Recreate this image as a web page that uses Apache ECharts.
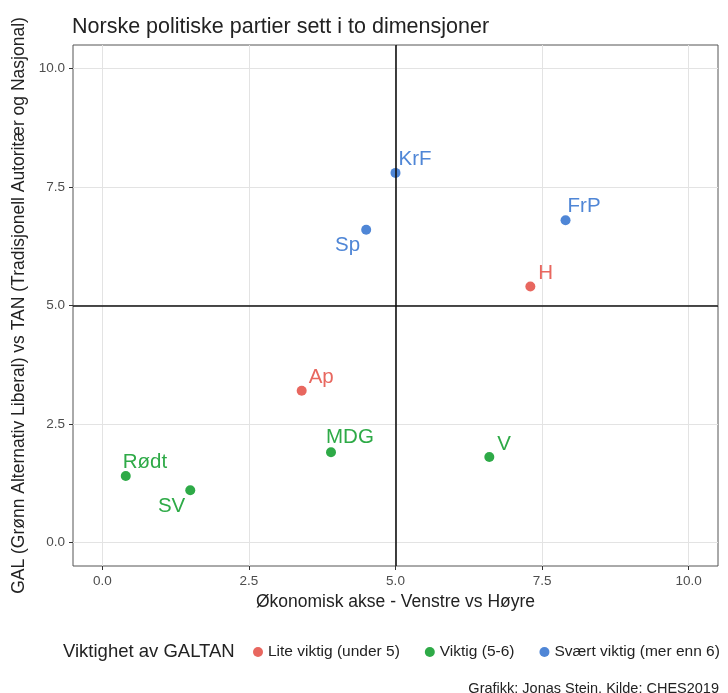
<!DOCTYPE html>
<html>
<head>
<meta charset="utf-8">
<script src="https://cdn.jsdelivr.net/npm/echarts@6/dist/echarts.min.js"></script>
<style>
  html, body { margin: 0; padding: 0; background: #fff; }
  #chart { width: 728px; height: 693px; }
</style>
</head>
<body>
<div id="chart"></div>
<script>
// Partier og posisjoner (økonomisk akse, GAL-TAN)
const parties = ["KrF", "Sp", "FrP", "H", "Ap", "MDG", "V", "Rødt", "SV"];
const econ = [5.0, 4.5, 7.9, 7.3, 3.4, 3.9, 6.6, 0.4, 1.5];
const galtan = [7.8, 6.6, 6.8, 5.4, 3.2, 1.9, 1.8, 1.4, 1.1];
const importance = [2, 2, 2, 0, 0, 1, 1, 1, 1];
const groups = ["Lite viktig (under 5)", "Viktig (5-6)", "Svært viktig (mer enn 6)"];
const tickValues = [0, 2.5, 5, 7.5, 10];

const colors = ["#E8675F", "#2EAA47", "#4F86D6"];

// Plassering av etikettene (som ggrepel)
const labelPos = {
    "KrF": ["right", [-2, -14]],
    "Sp": ["left", [-1, 16]],
    "FrP": ["right", [-3, -14]],
    "H": ["right", [3, -13]],
    "Ap": ["right", [2, -13]],
    "MDG": ["right", [-10, -15]],
    "V": ["right", [3, -13]],
    "Rødt": ["right", [-8, -14]],
    "SV": ["left", [0, 16]]
};

const series = groups.map((g, gi) => {
    const data = [];
    parties.forEach((p, i) => {
        if (importance[i] !== gi) return;
        data.push({
            value: [econ[i], galtan[i], p],
            label: { position: labelPos[p][0], offset: labelPos[p][1] }
        });
    });
    return {
        name: g,
        type: 'scatter',
        symbolSize: 10,
        itemStyle: { color: colors[gi], opacity: 1 },
        label: {
            show: true,
            formatter: (d) => d.value[2],
            color: colors[gi],
            fontSize: 20.5,
            fontFamily: 'Liberation Sans',
            distance: 0
        },
        data: data,
        z: 3
    };
});

// svarte hjelpelinjer ved 5
series.push({
    type: 'scatter',
    data: [],
    silent: true,
    markLine: {
        symbol: 'none',
        silent: true,
        label: { show: false },
        lineStyle: { color: '#111', width: 1.6, type: 'solid' },
        data: [{ xAxis: 5 }, { yAxis: 5 }]
    },
    z: 1
});

const axisCommon = {
    type: 'value',
    min: -0.5,
    max: 10.5,
    axisLine: { show: false, onZero: false },
    axisTick: { show: true, length: 4, customValues: tickValues, lineStyle: { color: '#333' } },
    axisLabel: {
        customValues: tickValues,
        formatter: (v) => v.toFixed(1),
        color: '#4d4d4d',
        fontSize: 13.5,
        fontFamily: 'Liberation Sans'
    },
    splitLine: { show: true, lineStyle: { color: '#e3e3e3', width: 1 } },
    nameLocation: 'middle',
    nameTextStyle: { color: '#222', fontSize: 17.5, fontFamily: 'Liberation Sans' }
};

const chart = echarts.init(document.getElementById('chart'));
chart.setOption({
    animation: false,
    backgroundColor: '#fff',
    title: [{
        text: 'Norske politiske partier sett i to dimensjoner',
        left: 67,
        top: 11,
        textStyle: { color: '#222', fontSize: 21.5, fontWeight: 'normal', fontFamily: 'Liberation Sans' }
    }, {
        text: 'Viktighet av GALTAN',
        left: 58,
        top: 637,
        textStyle: { color: '#222', fontSize: 18.5, fontWeight: 'normal', fontFamily: 'Liberation Sans' }
    }, {
        text: 'Grafikk: Jonas Stein, Kilde: CHES2019',
        right: 4,
        top: 676,
        textStyle: { color: '#222', fontSize: 14.5, fontWeight: 'normal', fontFamily: 'Liberation Sans' }
    }],
    legend: {
        data: groups,
        left: 248,
        top: 639,
        icon: 'circle',
        itemWidth: 10,
        itemHeight: 10,
        itemGap: 25,
        textStyle: { color: '#222', fontSize: 15.5, fontFamily: 'Liberation Sans' }
    },
    grid: {
        left: 73,
        right: 10,
        top: 45,
        bottom: 127,
        show: true,
        borderColor: '#555',
        borderWidth: 1
    },
    xAxis: Object.assign({}, axisCommon, {
        name: 'Økonomisk akse - Venstre vs Høyre',
        nameGap: 22
    }),
    yAxis: Object.assign({}, axisCommon, {
        name: 'GAL (Grønn Alternativ Liberal) vs TAN (Tradisjonell Autoritær og Nasjonal)',
        nameGap: 44
    }),
    series: series
});
</script>
</body>
</html>
